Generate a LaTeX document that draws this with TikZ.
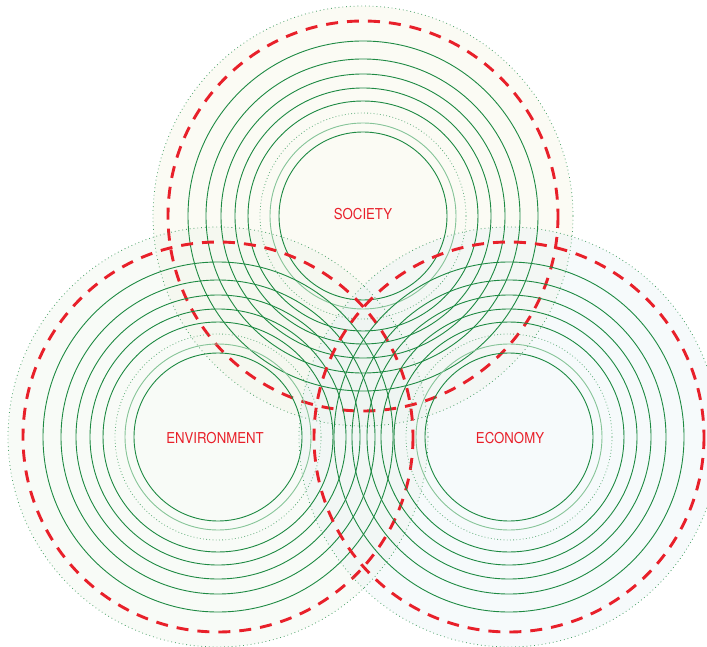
\documentclass[tikz,border=0pt]{standalone}
\usepackage{fontspec}
\usepackage{tikz}
\newfontfamily\pillarfont{TeX Gyre Heros}
\definecolor{susRing}{HTML}{1E8A43}
\definecolor{susLight}{HTML}{86C498}
\definecolor{susRed}{HTML}{E8202A}
\definecolor{susSoc}{HTML}{F4F4E4}
\definecolor{susEnv}{HTML}{EEF5EA}
\definecolor{susEco}{HTML}{E8F2F5}
\tikzset{
  ring/.style={draw=susRing, line width=0.9pt},
  ringlight/.style={draw=susLight, line width=0.9pt},
  ringdot/.style={draw=susRing!70, line width=0.8pt, dash pattern=on 0.8pt off 2.4pt},
  rim/.style={draw=susRing!80, line width=0.8pt, dash pattern=on 0.8pt off 3pt},
  bound/.style={draw=susRed, line width=2.9pt, dash pattern=on 12pt off 9pt},
  disc/.style={fill opacity=0.4},
  pillar/.style={text=susRed, font=\pillarfont\fontsize{15}{15}\selectfont,
    xscale=0.88, inner sep=0pt}
}

\begin{document}
\begin{tikzpicture}[x=1pt, y=-1pt]
  \useasboundingbox (0,0) rectangle (707,647);
  \clip (0,0) rectangle (707,647);
  \coordinate (soc) at (363,216);
  \coordinate (env) at (218,437);
  \coordinate (eco) at (509,437);
  % filled discs
  \fill[susSoc, disc] (soc) circle (210);
  \fill[susEnv, disc] (env) circle (210);
  \fill[susEco, disc] (eco) circle (210);
  % rings
  \foreach \c in {soc,env,eco} {
    \foreach \r in {84,115,128,142,157,175}
      \draw[ring] (\c) circle (\r);
    \draw[ringlight] (\c) circle (93);
    \draw[ringdot] (\c) circle (103);
    \draw[rim] (\c) circle (210);
    \draw[bound] (\c) circle (195);
  }
  \node[pillar] (society) at (363,214.5) {SOCIETY};
  \node[pillar] (environment) at (215,438.5) {ENVIRONMENT};
  \node[pillar] (economy) at (510,438.5) {ECONOMY};
\end{tikzpicture}
\end{document}
